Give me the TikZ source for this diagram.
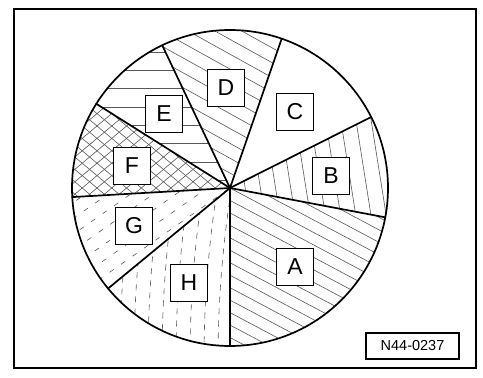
\documentclass[tikz,border=0pt]{standalone}
\usepackage{fontspec}
\setmainfont{Liberation Sans}
\usetikzlibrary{calc}
\newcommand\clipsector[2]{\clip (O) -- ++(#1:\R) arc[start angle=#1,end angle=#2,radius=\R] -- cycle;}
\newcommand\hatchlines[4]{%
  \begin{scope}[shift={(O)}, rotate=#1]
    \foreach \k in {-22,...,22} \draw[#3] (-175,#4+\k*#2) -- (175,#4+\k*#2);
  \end{scope}}
\begin{document}
\begin{tikzpicture}[x=1pt,y=1pt,
  hatch/.style={line width=0.6pt, draw=black!65},
  dhatch/.style={hatch, dash pattern=on 5pt off 9pt},
  harc/.style={hatch, dash pattern=on 6pt off 6pt},
  spoke/.style={line width=1.7pt, line cap=round},
  lbl/.style={draw, line width=1.1pt, fill=white, minimum size=37pt, inner sep=0pt, font=\fontsize{23}{23}\selectfont},
  codebox/.style={draw, line width=1.1pt, fill=white, minimum width=93pt, minimum height=26pt, inner sep=0pt, font=\fontsize{14.5}{14.5}\selectfont},
]
\useasboundingbox (0,0) rectangle (483,378);
\fill[white] (0,0) rectangle (483,378);
\coordinate (O) at (230,190);
\def\R{158}
% A
\begin{scope}\clipsector{-90}{-10.7}\hatchlines{-28}{11}{hatch}{0}\end{scope}
% B
\begin{scope}\clipsector{-10.7}{26.7}\hatchlines{-81}{15}{hatch}{0}\end{scope}
% D
\begin{scope}\clipsector{70.9}{115.4}\hatchlines{-29}{13}{hatch}{0}\end{scope}
% E
\begin{scope}\clipsector{115.4}{147.8}\hatchlines{0}{18.3}{hatch}{7.7}\end{scope}
% F
\begin{scope}\clipsector{147.8}{183.3}\hatchlines{40}{9.5}{hatch}{0}\hatchlines{-40}{9.5}{hatch}{0}\end{scope}
% G
\begin{scope}\clipsector{183.3}{219.5}\hatchlines{35}{13}{dhatch}{0}\end{scope}
% H
\begin{scope}\clipsector{219.5}{270}
  \foreach \r in {1082,1096,...,1220} \draw[harc] (1300,18) circle (\r);
\end{scope}
% spokes
\foreach \a/\n in {-90/s1,-10.7/s2,26.7/s3,70.9/s4,115.4/s5,147.8/s6,183.3/s7,219.5/s8}
  \coordinate (\n) at ($(O)+(\a:\R)$);
\foreach \n in {s1,s2,s3,s4,s5,s6,s7,s8} \draw[spoke] (O) -- (\n);
\draw[line width=1.7pt] (O) circle (\R);
% frame
\draw[line width=2pt] (14,10) rectangle (476,369);
% labels
\node[lbl] (A) at (295,111) {A};
\node[lbl] (B) at (331,202) {B};
\node[lbl] (C) at (295,266) {C};
\node[lbl] (D) at (226,290) {D};
\node[lbl] (E) at (164,264) {E};
\node[lbl] (F) at (132,212) {F};
\node[lbl] (G) at (134,152) {G};
\node[lbl] (H) at (189,95) {H};
\node[codebox] (code) at (412.5,32) {N44-0237};
\end{tikzpicture}
\end{document}
